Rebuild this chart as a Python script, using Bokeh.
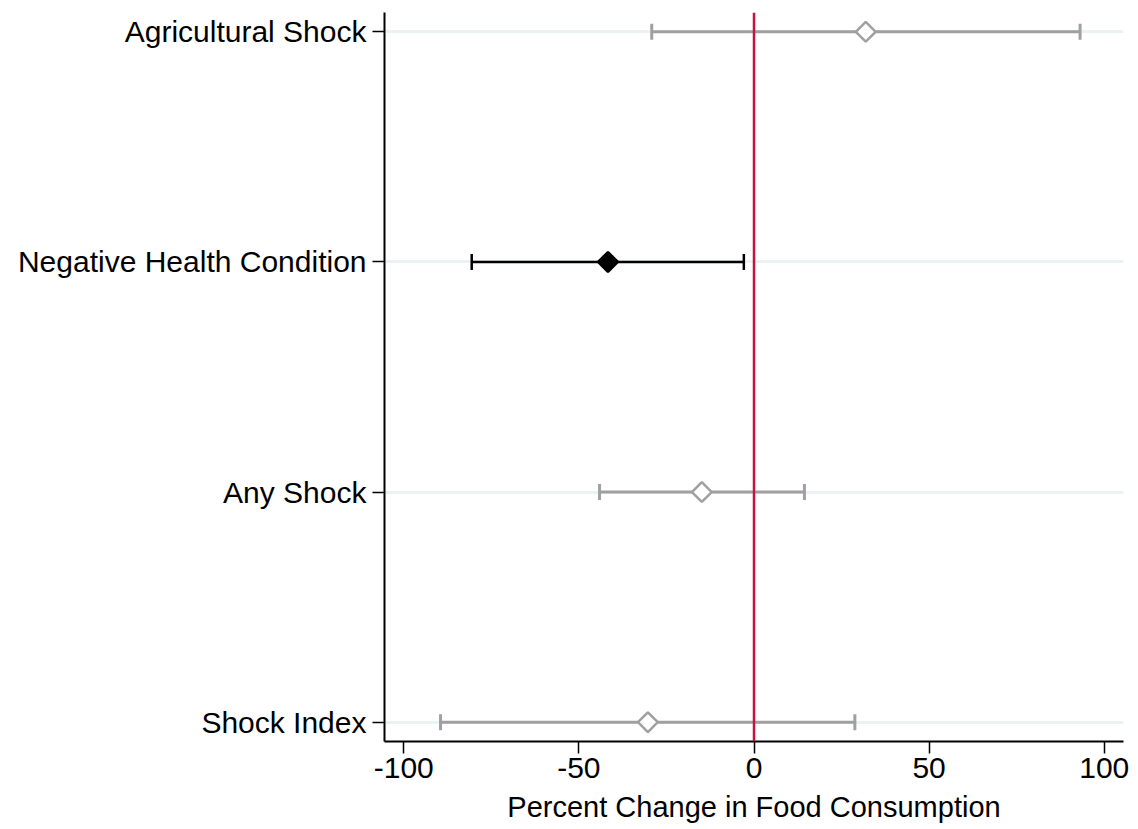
import math
from bokeh.plotting import figure
from bokeh.models import ColumnDataSource, Whisker, TeeHead, Span, FixedTicker
from bokeh.embed import file_html
from bokeh.resources import INLINE

# ---- data ----
categories = ["Shock Index", "Any Shock", "Negative Health Condition", "Agricultural Shock"]
estimate = [-30.3, -14.9, -41.7, 31.9]
lower = [-89.5, -44.1, -80.6, -29.2]
upper = [28.8, 14.4, -2.9, 93.1]
significant = [False, False, True, False]
x_ticks = [-100, -50, 0, 50, 100]
x_tick_labels = ["-100", "-50", "0", "50", "100"]
x_title = "Percent Change in Food Consumption"

FONT = "Liberation Sans"
GREY = "#a0a0a0"

ypos = list(range(1, len(categories) + 1))
colors = ["black" if s else GREY for s in significant]
fills = ["black" if s else "white" for s in significant]

p = figure(width=1133, height=829, output_backend="svg", toolbar_location=None,
           x_range=(-105.5, 105.5), y_range=(1 - 0.084, len(categories) + 0.084),
           min_border_left=384, min_border_right=10, min_border_top=12, min_border_bottom=88)
p.outline_line_color = None
p.background_fill_color = "white"
p.border_fill_color = "white"

# grid
p.xgrid.grid_line_color = None
p.ygrid.grid_line_color = "#eaf2f3"
p.ygrid.grid_line_width = 3

# zero line
p.add_layout(Span(location=0, dimension="height", line_color="#c8143c", line_width=2.5))

# error bars
for sig, col in ((False, GREY), (True, "black")):
    idx = [i for i, s in enumerate(significant) if s == sig]
    src = ColumnDataSource(dict(y=[ypos[i] for i in idx],
                                lo=[lower[i] for i in idx],
                                hi=[upper[i] for i in idx]))
    lw = 2.5 if sig else 3
    w = Whisker(source=src, base="y", lower="lo", upper="hi", dimension="width",
                line_color=col, line_width=lw,
                lower_head=TeeHead(size=16, line_color=col, line_width=lw),
                upper_head=TeeHead(size=16, line_color=col, line_width=lw))
    p.add_layout(w)

# point estimates (diamonds)
src_pts = ColumnDataSource(dict(x=estimate, y=ypos, c=colors, f=fills))
p.scatter("x", "y", source=src_pts, marker="square", size=14, angle=math.pi / 4,
          line_color="c", fill_color="f", line_width=2.5)

# axes
p.xaxis.ticker = FixedTicker(ticks=x_ticks)
p.xaxis.major_label_overrides = {t: l for t, l in zip(x_ticks, x_tick_labels)}
p.yaxis.ticker = FixedTicker(ticks=ypos)
p.yaxis.major_label_overrides = {y: c for y, c in zip(ypos, categories)}

for ax in (p.xaxis[0], p.yaxis[0]):
    ax.axis_line_color = "black"
    ax.axis_line_width = 2
    ax.major_tick_line_color = "black"
    ax.major_tick_line_width = 1.5
    ax.major_tick_out = 12
    ax.major_tick_in = 0
    ax.minor_tick_line_color = None
    ax.major_label_text_font = FONT
    ax.major_label_text_font_size = "30px"
    ax.major_label_text_color = "black"

p.yaxis.major_label_standoff = 6
p.xaxis.major_label_standoff = 4
p.xaxis.axis_label = x_title
p.xaxis.axis_label_text_font = FONT
p.xaxis.axis_label_text_font_size = "29px"
p.xaxis.axis_label_text_font_style = "normal"
p.xaxis.axis_label_text_color = "black"
p.xaxis.axis_label_standoff = 10

open("out.html", "w").write(file_html(p, INLINE))
